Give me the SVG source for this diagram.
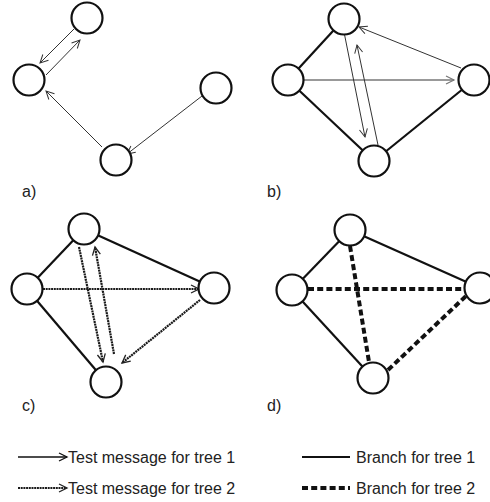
<svg xmlns="http://www.w3.org/2000/svg" width="490" height="502" viewBox="0 0 490 502">
<defs>
<style>
.node{fill:#fff;stroke:#111;stroke-width:2.2}
.br1{stroke:#111;stroke-width:2.2;fill:none}
.br2{stroke:#111;stroke-width:4;stroke-dasharray:6 3.2;fill:none}
.m1{stroke:#333;stroke-width:1;fill:none}
.m1g{stroke:#777;stroke-width:1.4;fill:none}
.m2{stroke:#1a1a1a;stroke-width:2.2;stroke-dasharray:2 0.7;fill:none}
.lbl{font-family:"Liberation Sans",Arial,sans-serif;font-size:16px;fill:#222}
</style>
<marker id="ah" viewBox="-10 -6 12 12" markerWidth="12" markerHeight="12" markerUnits="userSpaceOnUse" refX="0" refY="0" orient="auto">
<path d="M-8,-4 L0,0 L-8,4" fill="none" stroke="#333" stroke-width="1"/>
</marker>
<marker id="ahk" viewBox="-10 -6 12 12" markerWidth="12" markerHeight="12" markerUnits="userSpaceOnUse" refX="0" refY="0" orient="auto">
<path d="M-8,-4 L0,0 L-8,4" fill="none" stroke="#111" stroke-width="1.3"/>
</marker>
<marker id="ahg" viewBox="-10 -6 12 12" markerWidth="12" markerHeight="12" markerUnits="userSpaceOnUse" refX="0" refY="0" orient="auto">
<path d="M-8,-4 L0,0 L-8,4" fill="none" stroke="#777" stroke-width="1.2"/>
</marker>
<marker id="ah2" viewBox="-10 -6 12 12" markerWidth="12" markerHeight="12" markerUnits="userSpaceOnUse" refX="0" refY="0" orient="auto">
<path d="M-8,-4 L0,0 L-8,4" fill="none" stroke="#222" stroke-width="1.3"/>
</marker>
</defs>

<g id="connectors">
<!-- panel a -->
<line class="m1" x1="74" y1="29" x2="40" y2="63" marker-end="url(#ah)"/>
<line class="m1" x1="46" y1="75" x2="80" y2="40" marker-end="url(#ah)"/>
<line class="m1" x1="102" y1="147" x2="46" y2="91" marker-end="url(#ah)"/>
<line class="m1" x1="202" y1="96" x2="127" y2="154" marker-end="url(#ah)"/>
<!-- panel b -->
<line class="br1" x1="344" y1="19" x2="288" y2="80"/>
<line class="br1" x1="288" y1="80" x2="374" y2="161"/>
<line class="br1" x1="374" y1="161" x2="474" y2="80"/>
<line class="m1g" x1="304" y1="80" x2="454" y2="80" marker-end="url(#ahg)"/>
<line class="m1" x1="461" y1="68" x2="359" y2="27" marker-end="url(#ah)"/>
<line class="m1" x1="344" y1="32" x2="365" y2="137" marker-end="url(#ah)"/>
<line class="m1" x1="378" y1="145" x2="357" y2="45" marker-end="url(#ah)"/>
<!-- panel c -->
<line class="br1" x1="84" y1="229" x2="27" y2="289"/>
<line class="br1" x1="27" y1="289" x2="106" y2="382"/>
<line class="br1" x1="84" y1="229" x2="214" y2="288"/>
<line class="m2" x1="43" y1="289" x2="199" y2="289" marker-end="url(#ah2)"/>
<line class="m2" x1="79" y1="247" x2="103" y2="362" marker-end="url(#ah2)"/>
<line class="m2" x1="114" y1="354" x2="95" y2="247" marker-end="url(#ah2)"/>
<line class="m2" x1="200" y1="300" x2="122" y2="363" marker-end="url(#ah2)"/>
<!-- panel d -->
<line class="br1" x1="350" y1="230" x2="292" y2="290"/>
<line class="br1" x1="292" y1="290" x2="373" y2="378"/>
<line class="br1" x1="350" y1="230" x2="480" y2="288"/>
<line class="br2" x1="308" y1="289" x2="465" y2="289"/>
<line class="br2" x1="350" y1="246" x2="369" y2="362"/>
<line class="br2" x1="388" y1="370" x2="466" y2="296"/>
</g>

<g id="panel-a">
<circle id="a-top" class="node" cx="87" cy="18" r="15.5"/>
<circle id="a-left" class="node" cx="29" cy="80" r="15.5"/>
<circle id="a-right" class="node" cx="216" cy="88" r="15.5"/>
<circle id="a-bottom" class="node" cx="116" cy="160" r="15.5"/>
<text class="lbl" x="22" y="197">a)</text>
</g>
<g id="panel-b">
<circle id="b-top" class="node" cx="344" cy="19" r="15.5"/>
<circle id="b-left" class="node" cx="288" cy="80" r="15.5"/>
<circle id="b-right" class="node" cx="474" cy="80" r="15.5"/>
<circle id="b-bottom" class="node" cx="374" cy="161" r="15.5"/>
<text class="lbl" x="267" y="197">b)</text>
</g>
<g id="panel-c">
<circle id="c-top" class="node" cx="84" cy="229" r="15.5"/>
<circle id="c-left" class="node" cx="27" cy="289" r="15.5"/>
<circle id="c-right" class="node" cx="214" cy="288" r="15.5"/>
<circle id="c-bottom" class="node" cx="106" cy="382" r="15.5"/>
<text class="lbl" x="22" y="411">c)</text>
</g>
<g id="panel-d">
<circle id="d-top" class="node" cx="350" cy="230" r="15.5"/>
<circle id="d-left" class="node" cx="292" cy="290" r="15.5"/>
<circle id="d-right" class="node" cx="480" cy="288" r="15.5"/>
<circle id="d-bottom" class="node" cx="373" cy="378" r="15.5"/>
<text class="lbl" x="267" y="411">d)</text>
</g>

<g id="legend">
<line x1="18" y1="457" x2="67" y2="457" stroke="#111" stroke-width="1.3" marker-end="url(#ahk)"/>
<text class="lbl" x="68" y="463">Test message for tree 1</text>
<line class="m2" x1="18" y1="488" x2="67" y2="488" marker-end="url(#ah2)"/>
<text class="lbl" x="68" y="494">Test message for tree 2</text>
<line class="br1" x1="302" y1="457" x2="350" y2="457"/>
<text class="lbl" x="356" y="463">Branch for tree 1</text>
<line class="br2" x1="302" y1="488" x2="350" y2="488"/>
<text class="lbl" x="356" y="494">Branch for tree 2</text>
</g>
</svg>
